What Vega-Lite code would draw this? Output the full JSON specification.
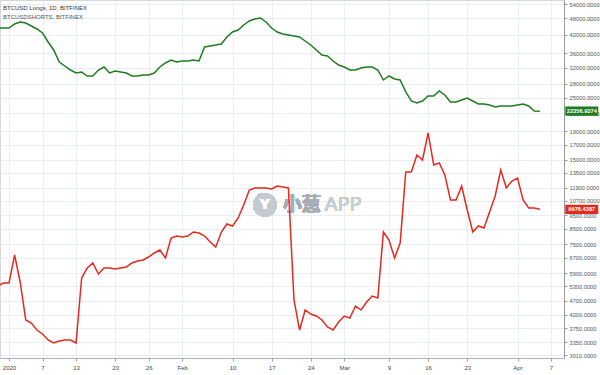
{
  "$schema": "https://vega.github.io/schema/vega-lite/v6.json",
  "width": 564,
  "height": 358,
  "autosize": {"type": "none"},
  "padding": {"left": 0, "top": 0, "right": 36, "bottom": 17},
  "background": "white",
  "config": {"view": {"stroke": "#d6d6d6"}, "font": "Liberation Sans"},
  "title": {
    "text": "BTCUSD Longs, 1D, BITFINEX",
    "subtitle": "BTCUSDSHORTS, BITFINEX",
    "anchor": "start",
    "frame": "group",
    "orient": "top",
    "offset": -20,
    "dx": 3,
    "fontSize": 6,
    "fontWeight": "normal",
    "color": "#333333",
    "subtitleFontSize": 6,
    "subtitleColor": "#555555",
    "subtitlePadding": 3,
    "font": "Liberation Sans",
    "subtitleFont": "Liberation Sans"
  },
  "data": {
    "values": [
      {"d": "2019-12-30", "Longs": 44328, "Shorts": 5311},
      {"d": "2019-12-31", "Longs": 44328, "Shorts": 5444},
      {"d": "2020-01-01", "Longs": 44328, "Shorts": 5444},
      {"d": "2020-01-02", "Longs": 45810, "Shorts": 6853},
      {"d": "2020-01-03", "Longs": 46570, "Shorts": 5489},
      {"d": "2020-01-04", "Longs": 46189, "Shorts": 4016},
      {"d": "2020-01-05", "Longs": 45063, "Shorts": 3918},
      {"d": "2020-01-06", "Longs": 43965, "Shorts": 3699},
      {"d": "2020-01-07", "Longs": 42542, "Shorts": 3579},
      {"d": "2020-01-08", "Longs": 39507, "Shorts": 3407},
      {"d": "2020-01-09", "Longs": 36992, "Shorts": 3324},
      {"d": "2020-01-10", "Longs": 33516, "Shorts": 3379},
      {"d": "2020-01-11", "Longs": 32431, "Shorts": 3407},
      {"d": "2020-01-12", "Longs": 31382, "Shorts": 3407},
      {"d": "2020-01-13", "Longs": 30617, "Shorts": 3324},
      {"d": "2020-01-14", "Longs": 30870, "Shorts": 5672},
      {"d": "2020-01-15", "Longs": 29871, "Shorts": 6158},
      {"d": "2020-01-16", "Longs": 29871, "Shorts": 6418},
      {"d": "2020-01-17", "Longs": 31382, "Shorts": 5862},
      {"d": "2020-01-18", "Longs": 32166, "Shorts": 6158},
      {"d": "2020-01-19", "Longs": 30617, "Shorts": 6158},
      {"d": "2020-01-20", "Longs": 31125, "Shorts": 6108},
      {"d": "2020-01-21", "Longs": 30870, "Shorts": 6158},
      {"d": "2020-01-22", "Longs": 30617, "Shorts": 6209},
      {"d": "2020-01-23", "Longs": 29871, "Shorts": 6418},
      {"d": "2020-01-24", "Longs": 29871, "Shorts": 6524},
      {"d": "2020-01-25", "Longs": 30117, "Shorts": 6578},
      {"d": "2020-01-26", "Longs": 30117, "Shorts": 6742},
      {"d": "2020-01-27", "Longs": 30617, "Shorts": 6967},
      {"d": "2020-01-28", "Longs": 32166, "Shorts": 7141},
      {"d": "2020-01-29", "Longs": 33242, "Shorts": 6687},
      {"d": "2020-01-30", "Longs": 34072, "Shorts": 7882},
      {"d": "2020-01-31", "Longs": 33516, "Shorts": 8013},
      {"d": "2020-02-01", "Longs": 33793, "Shorts": 7948},
      {"d": "2020-02-02", "Longs": 33793, "Shorts": 8013},
      {"d": "2020-02-03", "Longs": 34072, "Shorts": 8281},
      {"d": "2020-02-04", "Longs": 33793, "Shorts": 8213},
      {"d": "2020-02-05", "Longs": 37916, "Shorts": 8013},
      {"d": "2020-02-06", "Longs": 38229, "Shorts": 7627},
      {"d": "2020-02-07", "Longs": 38545, "Shorts": 7320},
      {"d": "2020-02-08", "Longs": 38863, "Shorts": 8281},
      {"d": "2020-02-09", "Longs": 41166, "Shorts": 8844},
      {"d": "2020-02-10", "Longs": 42893, "Shorts": 8700},
      {"d": "2020-02-11", "Longs": 43605, "Shorts": 9291},
      {"d": "2020-02-12", "Longs": 45435, "Shorts": 10340},
      {"d": "2020-02-13", "Longs": 46955, "Shorts": 11698},
      {"d": "2020-02-14", "Longs": 47734, "Shorts": 11892},
      {"d": "2020-02-15", "Longs": 48128, "Shorts": 11892},
      {"d": "2020-02-16", "Longs": 46570, "Shorts": 11892},
      {"d": "2020-02-17", "Longs": 44328, "Shorts": 11794},
      {"d": "2020-02-18", "Longs": 42893, "Shorts": 12089},
      {"d": "2020-02-19", "Longs": 42194, "Shorts": 11990},
      {"d": "2020-02-20", "Longs": 41848, "Shorts": 11892},
      {"d": "2020-02-21", "Longs": 41506, "Shorts": 4733},
      {"d": "2020-02-22", "Longs": 41166, "Shorts": 3699},
      {"d": "2020-02-23", "Longs": 39834, "Shorts": 4360},
      {"d": "2020-02-24", "Longs": 38545, "Shorts": 4219},
      {"d": "2020-02-25", "Longs": 36992, "Shorts": 4150},
      {"d": "2020-02-26", "Longs": 35502, "Shorts": 4016},
      {"d": "2020-02-27", "Longs": 35211, "Shorts": 3791},
      {"d": "2020-02-28", "Longs": 33793, "Shorts": 3699},
      {"d": "2020-02-29", "Longs": 32699, "Shorts": 3950},
      {"d": "2020-03-01", "Longs": 32166, "Shorts": 4150},
      {"d": "2020-03-02", "Longs": 31382, "Shorts": 4082},
      {"d": "2020-03-03", "Longs": 31382, "Shorts": 4505},
      {"d": "2020-03-04", "Longs": 31902, "Shorts": 4360},
      {"d": "2020-03-05", "Longs": 32166, "Shorts": 4656},
      {"d": "2020-03-06", "Longs": 32166, "Shorts": 4892},
      {"d": "2020-03-07", "Longs": 31382, "Shorts": 4812},
      {"d": "2020-03-08", "Longs": 28904, "Shorts": 8281},
      {"d": "2020-03-09", "Longs": 29871, "Shorts": 7754},
      {"d": "2020-03-10", "Longs": 29143, "Shorts": 6687},
      {"d": "2020-03-11", "Longs": 28904, "Shorts": 7565},
      {"d": "2020-03-12", "Longs": 26188, "Shorts": 13563},
      {"d": "2020-03-13", "Longs": 24320, "Shorts": 13563},
      {"d": "2020-03-14", "Longs": 23923, "Shorts": 15599},
      {"d": "2020-03-15", "Longs": 24320, "Shorts": 14971},
      {"d": "2020-03-16", "Longs": 25341, "Shorts": 18693},
      {"d": "2020-03-17", "Longs": 25341, "Shorts": 14367},
      {"d": "2020-03-18", "Longs": 26404, "Shorts": 14606},
      {"d": "2020-03-19", "Longs": 25550, "Shorts": 13233},
      {"d": "2020-03-20", "Longs": 24121, "Shorts": 10774},
      {"d": "2020-03-21", "Longs": 24121, "Shorts": 10774},
      {"d": "2020-03-22", "Longs": 24521, "Shorts": 12089},
      {"d": "2020-03-23", "Longs": 24927, "Shorts": 9923},
      {"d": "2020-03-24", "Longs": 24320, "Shorts": 8281},
      {"d": "2020-03-25", "Longs": 23728, "Shorts": 8700},
      {"d": "2020-03-26", "Longs": 23728, "Shorts": 8558},
      {"d": "2020-03-27", "Longs": 23534, "Shorts": 9761},
      {"d": "2020-03-28", "Longs": 23150, "Shorts": 11134},
      {"d": "2020-03-29", "Longs": 23341, "Shorts": 13788},
      {"d": "2020-03-30", "Longs": 23341, "Shorts": 11892},
      {"d": "2020-03-31", "Longs": 23341, "Shorts": 12596},
      {"d": "2020-04-01", "Longs": 23534, "Shorts": 12910},
      {"d": "2020-04-02", "Longs": 23728, "Shorts": 10774},
      {"d": "2020-04-03", "Longs": 23341, "Shorts": 10088},
      {"d": "2020-04-04", "Longs": 22401, "Shorts": 10088},
      {"d": "2020-04-05", "Longs": 22356.9374, "Shorts": 9976.4387}
    ]
  },
  "transform": [{"fold": ["Longs", "Shorts"], "as": ["s", "v"]}],
  "layer": [
    {
      "mark": {"type": "point", "shape": "circle", "filled": true, "color": "#c3c9d1", "opacity": 0.45, "size": 560},
      "encoding": {
        "x": {"datum": {"year": 2020, "month": 2, "date": 15, "hours": 19, "utc": true}, "type": "temporal"},
        "y": {"datum": 10340, "type": "quantitative"}
      }
    },
    {
      "mark": {"type": "text", "text": "Y", "color": "white", "opacity": 0.8, "fontSize": 14, "fontWeight": "bold", "align": "center", "baseline": "middle", "font": "DejaVu Sans"},
      "encoding": {
        "x": {"datum": {"year": 2020, "month": 2, "date": 15, "hours": 19, "utc": true}, "type": "temporal"},
        "y": {"datum": 10340, "type": "quantitative"}
      }
    },
    {
      "mark": {"type": "text", "text": "小葱", "color": "#a6adb6", "opacity": 0.55, "fontSize": 19, "fontWeight": "bold", "align": "left", "baseline": "middle", "font": "Noto Sans CJK SC"},
      "encoding": {
        "x": {"datum": {"year": 2020, "month": 2, "date": 19, "utc": true}, "type": "temporal"},
        "y": {"datum": 10340, "type": "quantitative"}
      }
    },
    {
      "mark": {"type": "text", "text": "APP", "color": "#c9ced5", "opacity": 0.6, "fontSize": 20, "align": "left", "baseline": "middle", "font": "Noto Sans"},
      "encoding": {
        "x": {"datum": {"year": 2020, "month": 2, "date": 26, "hours": 12, "utc": true}, "type": "temporal"},
        "y": {"datum": 10340, "type": "quantitative"}
      }
    },
    {
      "mark": {"type": "line", "strokeWidth": 1.5, "clip": true},
      "encoding": {
        "x": {
          "field": "d",
          "type": "temporal",
          "scale": {
            "type": "utc",
            "domain": [
              {"year": 2019, "month": 12, "date": 30, "hours": 9, "minutes": 20, "utc": true},
              {"year": 2020, "month": 4, "date": 9, "hours": 7, "minutes": 40, "utc": true}
            ]
          },
          "axis": {
            "title": null,
            "values": [
              {"year": 2020, "month": 1, "date": 1, "utc": true},
              {"year": 2020, "month": 1, "date": 7, "utc": true},
              {"year": 2020, "month": 1, "date": 13, "utc": true},
              {"year": 2020, "month": 1, "date": 20, "utc": true},
              {"year": 2020, "month": 1, "date": 26, "utc": true},
              {"year": 2020, "month": 2, "date": 1, "utc": true},
              {"year": 2020, "month": 2, "date": 10, "utc": true},
              {"year": 2020, "month": 2, "date": 17, "utc": true},
              {"year": 2020, "month": 2, "date": 24, "utc": true},
              {"year": 2020, "month": 3, "date": 1, "utc": true},
              {"year": 2020, "month": 3, "date": 9, "utc": true},
              {"year": 2020, "month": 3, "date": 16, "utc": true},
              {"year": 2020, "month": 3, "date": 23, "utc": true},
              {"year": 2020, "month": 4, "date": 1, "utc": true},
              {"year": 2020, "month": 4, "date": 7, "utc": true}
            ],
            "labelExpr": "utcdate(datum.value) == 1 ? (utcmonth(datum.value) == 0 ? '2020' : utcFormat(datum.value, '%b')) : utcFormat(datum.value, '%-d')",
            "labelFontSize": 6,
            "labelColor": "#444444",
            "labelFlush": false,
            "labelOverlap": false,
            "labelPadding": 3,
            "tickSize": 3,
            "tickColor": "#9a9a9a",
            "domainColor": "#b0b0b0",
            "grid": true,
            "gridColor": "#e9eef4",
            "gridWidth": 1
          }
        },
        "y": {
          "field": "v",
          "type": "quantitative",
          "scale": {"type": "log", "domain": [2938, 55806], "nice": false},
          "axis": {
            "orient": "right",
            "title": null,
            "values": [3010, 3350, 3750, 4200, 4700, 5300, 5900, 6700, 7500, 8500, 9500, 10700, 11900, 13500, 15000, 17000, 19000, 22000, 25000, 28000, 32000, 36000, 42000, 48000, 54000],
            "format": ".4f",
            "labelFontSize": 5.7,
            "labelColor": "#555555",
            "labelPadding": 2,
            "labelOverlap": false,
            "tickSize": 3,
            "tickColor": "#9a9a9a",
            "domainColor": "#9a9a9a",
            "grid": true,
            "gridColor": "#e9eef4",
            "gridWidth": 1
          }
        },
        "color": {
          "field": "s",
          "type": "nominal",
          "scale": {"domain": ["Longs", "Shorts"], "range": ["#1e7c1e", "#e4291d"]},
          "legend": null
        }
      }
    },
    {
      "transform": [{"filter": "time(datum.d) == utc(2020, 3, 5)"}],
      "mark": {"type": "point", "shape": "M-1,-0.28L1,-0.28L1,0.28L-1,0.28Z", "filled": true, "opacity": 1, "size": 1089, "clip": false},
      "encoding": {
        "x": {"datum": {"year": 2020, "month": 4, "date": 12, "hours": 12, "utc": true}, "type": "temporal"},
        "y": {"field": "v", "type": "quantitative"},
        "color": {"field": "s", "type": "nominal", "legend": null}
      }
    },
    {
      "transform": [{"filter": "time(datum.d) == utc(2020, 3, 5)"}],
      "mark": {"type": "text", "color": "white", "fontSize": 5.7, "fontWeight": "bold", "align": "center", "baseline": "middle", "clip": false},
      "encoding": {
        "x": {"datum": {"year": 2020, "month": 4, "date": 12, "hours": 12, "utc": true}, "type": "temporal"},
        "y": {"field": "v", "type": "quantitative"},
        "text": {"field": "v", "type": "quantitative", "format": ".4f"}
      }
    }
  ]
}
